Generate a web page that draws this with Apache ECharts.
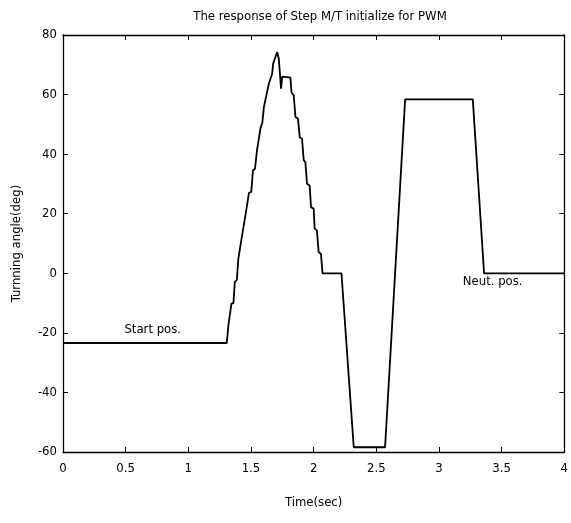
<!DOCTYPE html>
<html>
<head>
<meta charset="utf-8">
<script src="https://cdn.jsdelivr.net/npm/echarts@6/dist/echarts.min.js"></script>
<style>
html, body { margin: 0; padding: 0; background: #fff; }
#chart { width: 571px; height: 523px; }
</style>
</head>
<body>
<div id="chart"></div>
<script>
// 时间 (sec) 与转角 (deg)
var timeSec = [0, 1.307, 1.320, 1.333, 1.344, 1.360, 1.371, 1.387, 1.399, 1.413,
    1.426, 1.439, 1.458, 1.471, 1.484, 1.502, 1.516, 1.532, 1.548, 1.563,
    1.577, 1.590, 1.603, 1.617, 1.643, 1.655, 1.669, 1.677, 1.690, 1.709,
    1.722, 1.740, 1.749, 1.815, 1.823, 1.841, 1.855, 1.875, 1.889, 1.907,
    1.921, 1.934, 1.947, 1.968, 1.979, 2.000, 2.008, 2.026, 2.040, 2.058,
    2.071, 2.222, 2.320, 2.570, 2.730, 3.270, 3.360, 4.000];
var angleDeg = [-23.4, -23.4, -17.4, -17.2, -10.2, -10.0, -2.9, -2.3, 4.8, 5.4,
    12.0, 12.4, 20.0, 20.6, 27.0, 27.3, 34.6, 35.1, 41.3, 41.6,
    49.0, 50.3, 55.8, 56.3, 63.7, 64.0, 67.0, 70.4, 71.0, 74.3,
    72.0, 62.0, 66.0, 65.7, 60.8, 59.7, 52.5, 51.9, 45.7, 45.2,
    38.0, 37.3, 30.1, 29.5, 22.2, 21.7, 15.0, 14.4, 7.1, 6.6,
    0, 0, -58.4, -58.4, 58.4, 58.4, 0, 0];

// 图中文字标注
var noteText = ['Start pos.', 'Neut. pos.'];
var noteTime = [0.49, 3.19];
var noteAngle = [-18.8, -2.7];

var font = "'DejaVu Sans Condensed', 'Liberation Sans Narrow', sans-serif";

var lineData = timeSec.map(function (t, i) { return [t, angleDeg[i]]; });
var noteData = noteText.map(function (s, i) { return { name: s, value: [noteTime[i], noteAngle[i]] }; });

var axisLine = { show: true, onZero: false, lineStyle: { color: '#000', width: 1.3 } };
var tickIn = { show: true, inside: true, length: 5, lineStyle: { color: '#000', width: 1 } };

var myChart = echarts.init(document.getElementById('chart'));
myChart.setOption({
    backgroundColor: '#fff',
    animation: false,
    title: {
        text: 'The response of Step M/T initialize for PWM',
        left: 315, top: 5, textAlign: 'center',
        textStyle: { fontFamily: font, fontSize: 13, fontWeight: 'normal', color: '#000' }
    },
    grid: { left: 63, right: 4, top: 35, bottom: 71 },
    xAxis: [{
        type: 'value', min: 0, max: 4, interval: 0.5, position: 'bottom',
        name: 'Time(sec)', nameLocation: 'middle', nameGap: 44,
        nameTextStyle: { fontFamily: font, fontSize: 13, color: '#000' },
        axisLine: axisLine, axisTick: tickIn, splitLine: { show: false },
        axisLabel: { fontFamily: font, fontSize: 13, color: '#000', margin: 10 }
    }, {
        type: 'value', min: 0, max: 4, interval: 0.5, position: 'top',
        axisLine: axisLine, axisTick: tickIn, splitLine: { show: false },
        axisLabel: { show: false }
    }],
    yAxis: [{
        type: 'value', min: -60, max: 80, interval: 20, position: 'left',
        name: 'Turnning angle(deg)', nameLocation: 'middle', nameGap: 40,
        nameTextStyle: { fontFamily: font, fontSize: 13, color: '#000' },
        axisLine: axisLine, axisTick: tickIn, splitLine: { show: false },
        axisLabel: { fontFamily: font, fontSize: 13, color: '#000', margin: 6 }
    }, {
        type: 'value', min: -60, max: 80, interval: 20, position: 'right',
        axisLine: axisLine, axisTick: tickIn, splitLine: { show: false },
        axisLabel: { show: false }
    }],
    series: [{
        type: 'line',
        data: lineData,
        showSymbol: false,
        lineStyle: { color: '#000', width: 1.8 }
    }, {
        type: 'scatter',
        data: noteData,
        symbolSize: 0,
        itemStyle: { opacity: 1 },
        label: {
            show: true, position: 'right', distance: 0,
            formatter: '{b}',
            fontFamily: font, fontSize: 13, color: '#000'
        }
    }]
});
</script>
</body>
</html>
